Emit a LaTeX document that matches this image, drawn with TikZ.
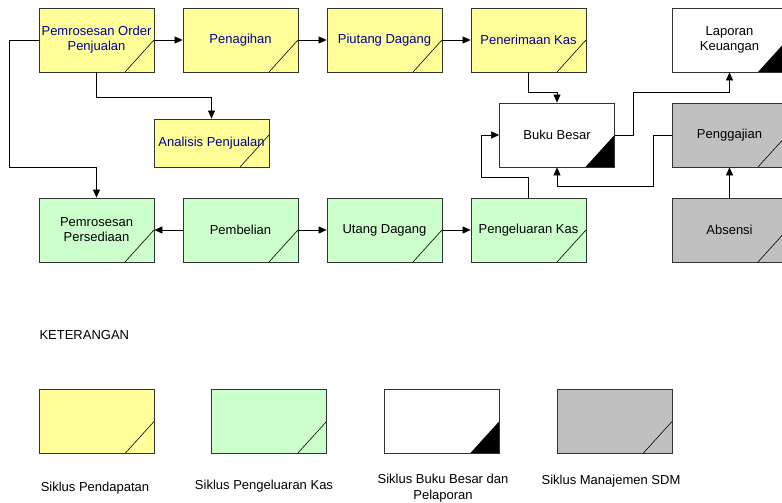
\documentclass[tikz,border=0pt]{standalone}
\usepackage{fontspec}
\setmainfont{Liberation Sans}
\usetikzlibrary{arrows.meta}

\definecolor{kuning}{RGB}{255,255,153}
\definecolor{hijau}{RGB}{204,255,204}
\definecolor{abu}{RGB}{192,192,192}
\definecolor{biru}{RGB}{0,0,150}

\tikzset{
	box/.style={draw=black!80, line width=0.8pt, minimum width=115pt, minimum height=64pt,
		inner sep=1pt, align=center, font=\fontsize{13}{15}\selectfont},
	slash/.style={path picture={\draw[black, line width=0.6pt]
		([xshift=-29pt]path picture bounding box.south east) --
		([yshift=32pt]path picture bounding box.south east);}},
	corner/.style={path picture={\fill[black]
		([xshift=-29pt]path picture bounding box.south east) --
		([yshift=32pt]path picture bounding box.south east) |- cycle;}},
	pend/.style={box, slash, fill=kuning, text=biru},
	kel/.style={box, slash, fill=hijau},
	bbp/.style={box, corner, fill=white},
	sdm/.style={box, slash, fill=abu},
	arr/.style={-{Triangle[length=8pt,width=7pt]}, line width=0.6pt},
	lbl/.style={font=\fontsize{13}{16}\selectfont, align=center}
}

\begin{document}
\begin{tikzpicture}[x=1pt,y=1pt]
	\useasboundingbox (0,0) rectangle (782,-503);

	% siklus pendapatan
	\node[pend] (pop) at (96.5,-40) {Pemrosesan Order\\Penjualan};
	\node[pend] (tagih) at (240.5,-40) {Penagihan};
	\node[pend] (piutang) at (384.5,-40) {Piutang Dagang};
	\node[pend] (terima) at (528.5,-40) {Penerimaan Kas};
	\node[pend, minimum height=48pt] (analisis) at (211.5,-143) {Analisis Penjualan};

	% siklus pengeluaran
	\node[kel] (sedia) at (96.5,-230) {Pemrosesan\\Persediaan};
	\node[kel] (beli) at (240.5,-230) {Pembelian};
	\node[kel] (utang) at (384.5,-230) {Utang Dagang};
	\node[kel] (keluar) at (528.5,-230) {Pengeluaran Kas};

	% buku besar dan pelaporan
	\node[bbp] (bb) at (557,-135) {Buku Besar};
	\node[bbp] (lapor) at (729.5,-40) {Laporan\\Keuangan};

	% sdm
	\node[sdm] (gaji) at (729.5,-135) {Penggajian};
	\node[sdm] (absen) at (729.5,-230) {Absensi};

	\foreach \a/\b in {pop/tagih, tagih/piutang, piutang/terima, beli/utang, utang/keluar} {
		\draw[arr] (\a) -- (\b);
	}
	\draw[arr] (beli) -- (sedia);

	\draw[arr] (pop.south) -- ++(0,-25) -| (analisis.north);
	\draw[arr] (pop.west) -| ++(-29,-127) -| (sedia.north);
	\draw[arr] (terima.south) -- ++(0,-20) -| (bb.north);
	\draw[arr] (keluar.north) -- ++(0,20) -| ([xshift=-18pt]bb.west) -- (bb.west);
	\draw[arr] (bb.east) -- ++(18,0) |- ([yshift=-20pt]lapor.south) -- (lapor.south);
	\draw[arr] (gaji.west) -- ++(-18,0) |- ([yshift=-19pt]bb.south) -- (bb.south);
	\draw[arr] (absen) -- (gaji);

	% keterangan
	\node[lbl, anchor=west] (ket) at (36,-335) {KETERANGAN};
	\node[pend] (k1) at (96.5,-421.5) {};
	\node[kel] (k2) at (269,-421.5) {};
	\node[bbp] (k3) at (441.5,-421.5) {};
	\node[sdm] (k4) at (614.5,-421.5) {};
	\node[lbl] (t1) at (95,-488) {Siklus Pendapatan};
	\node[lbl] (t2) at (264,-486) {Siklus Pengeluaran Kas};
	\node[lbl] (t3) at (443,-488) {Siklus Buku Besar dan\\Pelaporan};
	\node[lbl] (t4) at (611,-481) {Siklus Manajemen SDM};
\end{tikzpicture}
\end{document}
